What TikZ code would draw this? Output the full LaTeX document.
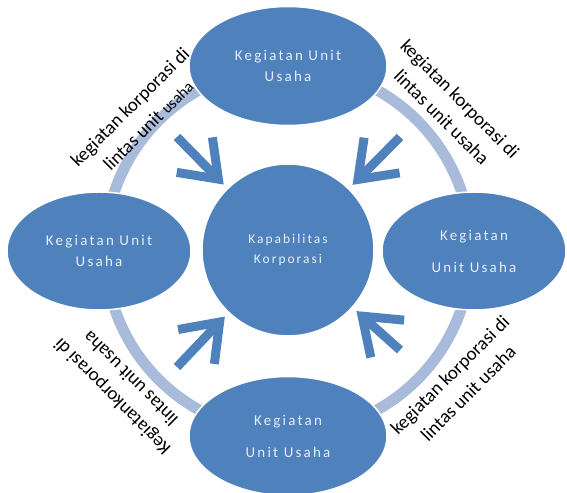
\documentclass[tikz,border=0pt]{standalone}
\usepackage{fontspec}
\setmainfont{Carlito}
\newfontfamily\tracked[LetterSpace=15]{Carlito}
\usetikzlibrary{shapes.geometric,arrows.meta}
\definecolor{unitblue}{RGB}{79,129,189}
\definecolor{ringblue}{RGB}{168,187,218}
\definecolor{unittext}{RGB}{232,238,246}
\begin{document}
\begin{tikzpicture}[x=1bp,y=1bp,
unit/.style={ellipse,fill=unitblue,draw=white,line width=1.5bp,minimum width=198bp,minimum height=119bp,inner sep=0pt,align=center,text=unittext,font=\tracked\fontsize{15}{21}\selectfont},
capab/.style={circle,fill=unitblue,draw=white,line width=1.5bp,minimum size=172bp,inner sep=0pt,align=center,text=unittext,font=\tracked\fontsize{13.5}{20}\selectfont},
lintas/.style={align=center,inner sep=0pt,font=\fontsize{19}{26}\selectfont},
inflow/.style={draw=unitblue,line width=9bp,shorten >=5bp,-{Straight Barb[length=34bp,width=50bp]}}]
\useasboundingbox (-288,-243) rectangle (279,250);
\node[capab] (kap) at (0,0) {Kapabilitas\\Korporasi};
\draw[ringblue,line width=11bp] (kap.center) circle (183);
\node[unit] (atas) at (0,184) {Kegiatan Unit\\Usaha};
\node[unit,minimum width=184bp,minimum height=118bp] (kiri) at (-189,-1) {Kegiatan Unit\\Usaha};
\node[unit,minimum width=184bp,minimum height=118bp] (kanan) at (186,-1) {Kegiatan\\[11bp]Unit Usaha};
\node[unit] (bawah) at (0,-186) {Kegiatan\\[11bp]Unit Usaha};
\coordinate (srcatas) at (-111,113);
\coordinate (srckanan) at (112,113);
\coordinate (srckiri) at (-111,-117);
\coordinate (srcbawah) at (112,-100);
\draw[inflow] (srcatas) -- (kap);
\draw[inflow] (srckanan) -- (kap);
\draw[inflow] (srckiri) -- (kap);
\draw[inflow] (srcbawah) -- (kap);
\node[lintas,rotate=45] (lbkiriatas) at (-149,134) {kegiatan korporasi di\\lintas unit {\fontsize{16}{26}\selectfont usaha}};
\node[lintas,rotate=-45] (lbkananatas) at (163,142) {kegiatan korporasi di\\lintas unit usaha};
\node[lintas,rotate=135] (lbkiribawah) at (-167,-138) {Kegiatankorporasi di\\lintas unit usaha};
\node[lintas,rotate=45] (lbkananbawah) at (171,-134) {kegiatan korporasi di\\lintas unit usaha};
\end{tikzpicture}
\end{document}
